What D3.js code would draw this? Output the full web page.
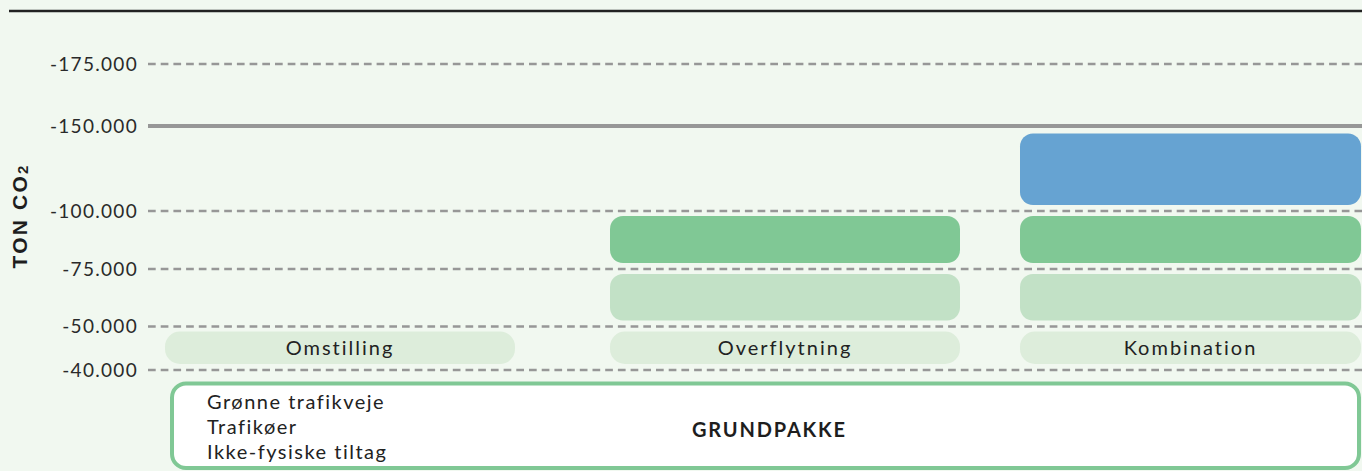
<!DOCTYPE html>
<html>
<head>
<meta charset="utf-8">
<script src="https://cdn.jsdelivr.net/npm/d3@7"></script>
<style>
  html, body { margin: 0; padding: 0; background: #f1f8f0; }
  svg { display: block; }
</style>
</head>
<body>
<svg id="chart" width="1362" height="471"></svg>
<script>
// ---- data ----
const tickValues = [-175000, -150000, -100000, -75000, -50000, -40000];
const tickLabels = ["-175.000", "-150.000", "-100.000", "-75.000", "-50.000", "-40.000"];
const highlightTick = -150000;
const categories = ["Omstilling", "Overflytning", "Kombination"];
const reach = [-50000, -100000, -150000];           // how far each scenario reaches
const tierUpper = [-50000, -75000, -100000, -150000];
const tierLower = [-40000, -50000, -75000, -100000];
const baseItems = ["Grønne trafikveje", "Trafikøer", "Ikke-fysiske tiltag"];
const baseTitle = "GRUNDPAKKE";
const axisTitle = "TON CO";
const axisTitleSub = "2";

// ---- style ----
const tierColors = ["#ddeddb", "#c2e1c6", "#80c895", "#66a3d2"];
const FONT = "Lato, 'Open Sans', sans-serif";

const svg = d3.select("#chart");
const W = 1362, H = 471;

svg.append("rect").attr("width", W).attr("height", H).attr("fill", "#f1f8f0");

// schematic (non-uniform) value axis
const y = d3.scaleLinear()
  .domain(tickValues)
  .range([63.5, 125.5, 210.5, 268.5, 326, 369.5]);

const x = d3.scaleOrdinal().domain(categories).range([165, 610, 1020]);
const xw = d3.scaleOrdinal().domain(categories).range([350, 350, 341]);

// top rule
svg.append("line")
  .attr("x1", 9).attr("x2", W).attr("y1", 11).attr("y2", 11)
  .attr("stroke", "#222").attr("stroke-width", 2.4);

// gridlines + tick labels via axis
const axis = d3.axisLeft(y)
  .tickValues(tickValues)
  .tickFormat((d, i) => tickLabels[i])
  .tickSize(0)
  .tickPadding(10);

const gAxis = svg.append("g").attr("transform", "translate(148,0)").call(axis);
gAxis.select(".domain").remove();
gAxis.selectAll("text")
  .attr("font-family", FONT)
  .attr("font-size", 19)
  .attr("letter-spacing", 1.3)
  .attr("fill", "#2a2a2a")
  .attr("dy", "0.36em");
gAxis.selectAll(".tick").append("line")
  .attr("x1", 0).attr("x2", W - 148)
  .attr("stroke", "#979797")
  .attr("stroke-width", d => d === highlightTick ? 4.2 : 2.4)
  .attr("stroke-dasharray", d => d === highlightTick ? null : "7.7,5");

// axis title
const tt = svg.append("text")
  .attr("transform", `translate(27,${216}) rotate(-90)`)
  .attr("text-anchor", "middle")
  .attr("font-family", "'Liberation Sans', Arial, sans-serif")
  .attr("font-weight", "bold")
  .attr("font-size", 21)
  .attr("letter-spacing", 2.2)
  .attr("fill", "#1e1e1e");
tt.append("tspan").text(axisTitle);
tt.append("tspan").attr("font-size", 15).attr("dy", 1).text(axisTitleSub);

// bars
const segs = [];
categories.forEach((c, ci) => {
  tierUpper.forEach((u, ti) => {
    if (u >= reach[ci]) segs.push({ c, ti, u, l: tierLower[ti] });
  });
});

function inset(v) { return v === highlightTick ? 8 : 5.5; }

svg.append("g").selectAll("rect").data(segs).join("rect")
  .attr("x", d => x(d.c))
  .attr("width", d => xw(d.c))
  .attr("y", d => y(d.u) + inset(d.u))
  .attr("height", d => y(d.l) - y(d.u) - inset(d.u) - inset(d.l))
  .attr("rx", d => d.ti === 0 ? 15 : 13)
  .attr("fill", d => tierColors[d.ti]);

// category labels
svg.append("g").selectAll("text").data(categories).join("text")
  .attr("x", c => x(c) + xw(c) / 2)
  .attr("y", (y(-50000) + y(-40000)) / 2)
  .attr("dy", "0.35em")
  .attr("text-anchor", "middle")
  .attr("font-family", FONT)
  .attr("font-size", 20)
  .attr("letter-spacing", 2)
  .attr("fill", "#222")
  .text(c => c);

// base package box
const boxX = x(categories[0]) + 7;
const boxTop = y(-40000) + 14;
svg.append("rect")
  .attr("x", boxX)
  .attr("y", boxTop)
  .attr("width", x(categories[2]) + xw(categories[2]) - 2 - boxX)
  .attr("height", H - 3 - boxTop)
  .attr("rx", 14)
  .attr("fill", "#ffffff")
  .attr("stroke", "#80c895")
  .attr("stroke-width", 4);

svg.append("g").selectAll("text").data(baseItems).join("text")
  .attr("x", boxX + 35)
  .attr("y", (d, i) => boxTop + 25 + i * 25)
  .attr("font-family", FONT)
  .attr("font-size", 20)
  .attr("letter-spacing", 1.5)
  .attr("fill", "#222")
  .text(d => d);

svg.append("text")
  .attr("x", 692)
  .attr("y", boxTop + 53)
  .attr("font-family", FONT)
  .attr("font-weight", "bold")
  .attr("font-size", 20)
  .attr("letter-spacing", 1.8)
  .attr("fill", "#1e1e1e")
  .text(baseTitle);
</script>
</body>
</html>
